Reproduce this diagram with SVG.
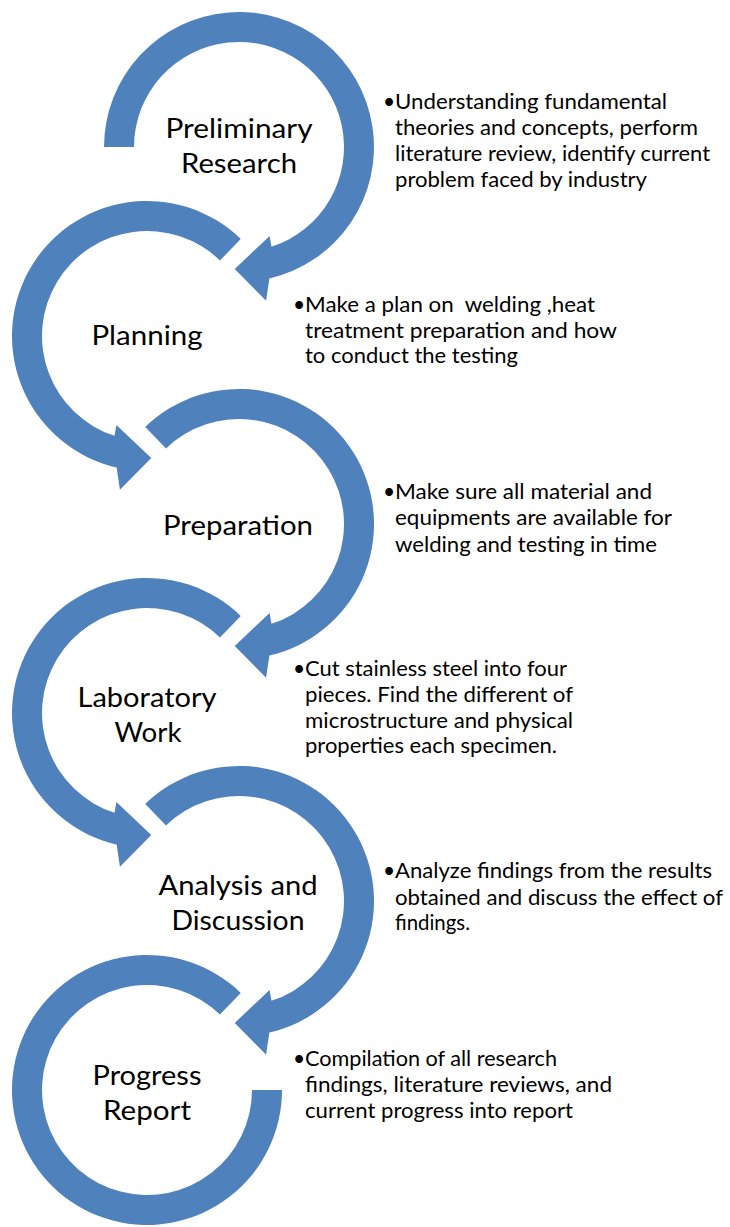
<svg xmlns="http://www.w3.org/2000/svg" xmlns:xlink="http://www.w3.org/1999/xlink" width="730" height="1227" viewBox="0 0 730 1227">
  <style>
    .arrow { fill: #4F81BD; }
    .title { font-family: Lato, "Open Sans", "Liberation Sans", sans-serif; font-size: 27px; text-anchor: middle; fill: #000000; }
    .note { font-family: Lato, "Open Sans", "Liberation Sans", sans-serif; font-size: 21px; fill: #000000; }
  </style>
  <defs>
    <!-- circular arrows centred on the origin: outer radius 135, inner radius 105 -->
    <path id="arrowFirst" d="M-135,0 A135,135 0 1 1 30.37,131.54 L27.08,153.63 L-4.26,121.93 L30.61,88.88 L32.45,99.87 A105,105 0 1 0 -105,0 Z"/>
    <path id="arrowRight" d="M-93.78,-97.11 A135,135 0 1 1 30.37,131.54 L27.08,153.63 L-4.26,121.93 L30.61,88.88 L32.45,99.87 A105,105 0 1 0 -72.94,-75.53 Z"/>
    <path id="arrowLeft" d="M93.78,-97.11 A135,135 0 1 0 -30.37,131.54 L-27.08,153.63 L4.26,121.93 L-30.61,88.88 L-32.45,99.87 A105,105 0 1 1 72.94,-75.53 Z"/>
    <path id="arrowLast" d="M93.78,-97.11 A135,135 0 1 0 135,0 L105,0 A105,105 0 1 1 72.94,-75.53 Z"/>
  </defs>

  <!-- the circular arrows carry the flow from one step to the next -->
  <g id="connectors">
    <use class="arrow" xlink:href="#arrowFirst" transform="translate(239,147)"/>
    <use class="arrow" xlink:href="#arrowLeft" transform="translate(147,336)"/>
    <use class="arrow" xlink:href="#arrowRight" transform="translate(239,524)"/>
    <use class="arrow" xlink:href="#arrowLeft" transform="translate(147,713)"/>
    <use class="arrow" xlink:href="#arrowRight" transform="translate(239,901)"/>
    <use class="arrow" xlink:href="#arrowLast" transform="translate(147,1090)"/>
  </g>

  <g id="step-preliminary-research">
    <text class="title" x="239" y="138" textLength="147" lengthAdjust="spacingAndGlyphs">Preliminary</text>
    <text class="title" x="239" y="173" textLength="116" lengthAdjust="spacingAndGlyphs">Research</text>
    <text class="note" x="383" y="109">•</text>
    <text class="note" x="395" y="109" textLength="272" lengthAdjust="spacingAndGlyphs">Understanding fundamental</text>
    <text class="note" x="395" y="135" textLength="303" lengthAdjust="spacingAndGlyphs">theories and concepts, perform</text>
    <text class="note" x="395" y="161" textLength="315" lengthAdjust="spacingAndGlyphs">literature review, identify current</text>
    <text class="note" x="395" y="187" textLength="252" lengthAdjust="spacingAndGlyphs">problem faced by industry</text>
  </g>

  <g id="step-planning">
    <text class="title" x="147" y="345" textLength="111" lengthAdjust="spacingAndGlyphs">Planning</text>
    <text class="note" x="293" y="312">•</text>
    <text class="note" x="305" y="312" textLength="290" lengthAdjust="spacingAndGlyphs" xml:space="preserve">Make a plan on  welding ,heat</text>
    <text class="note" x="305" y="338" textLength="312" lengthAdjust="spacingAndGlyphs">treatment preparation and how</text>
    <text class="note" x="305" y="363" textLength="213" lengthAdjust="spacingAndGlyphs">to conduct the testing</text>
  </g>

  <g id="step-preparation">
    <text class="title" x="238" y="535" textLength="150" lengthAdjust="spacingAndGlyphs">Preparation</text>
    <text class="note" x="383" y="499">•</text>
    <text class="note" x="395" y="499" textLength="257" lengthAdjust="spacingAndGlyphs">Make sure all material and</text>
    <text class="note" x="395" y="525" textLength="277" lengthAdjust="spacingAndGlyphs">equipments are available for</text>
    <text class="note" x="395" y="552" textLength="262" lengthAdjust="spacingAndGlyphs">welding and testing in time</text>
  </g>

  <g id="step-laboratory-work">
    <text class="title" x="147" y="707" textLength="139" lengthAdjust="spacingAndGlyphs">Laboratory</text>
    <text class="title" x="148" y="742" textLength="67" lengthAdjust="spacingAndGlyphs">Work</text>
    <text class="note" x="293" y="676">•</text>
    <text class="note" x="305" y="676" textLength="262" lengthAdjust="spacingAndGlyphs">Cut stainless steel into four</text>
    <text class="note" x="305" y="702" textLength="268" lengthAdjust="spacingAndGlyphs">pieces. Find the different of</text>
    <text class="note" x="305" y="728" textLength="268" lengthAdjust="spacingAndGlyphs">microstructure and physical</text>
    <text class="note" x="305" y="753" textLength="252" lengthAdjust="spacingAndGlyphs">properties each specimen.</text>
  </g>

  <g id="step-analysis-discussion">
    <text class="title" x="238" y="895" textLength="159" lengthAdjust="spacingAndGlyphs">Analysis and</text>
    <text class="title" x="238" y="930" textLength="133" lengthAdjust="spacingAndGlyphs">Discussion</text>
    <text class="note" x="383" y="878">•</text>
    <text class="note" x="395" y="878" textLength="317" lengthAdjust="spacingAndGlyphs">Analyze findings from the results</text>
    <text class="note" x="395" y="905" textLength="328" lengthAdjust="spacingAndGlyphs">obtained and discuss the effect of</text>
    <text class="note" x="395" y="930" textLength="75" lengthAdjust="spacingAndGlyphs">findings.</text>
  </g>

  <g id="step-progress-report">
    <text class="title" x="147" y="1085" textLength="109" lengthAdjust="spacingAndGlyphs">Progress</text>
    <text class="title" x="147" y="1120" textLength="88" lengthAdjust="spacingAndGlyphs">Report</text>
    <text class="note" x="293" y="1066">•</text>
    <text class="note" x="305" y="1066" textLength="252" lengthAdjust="spacingAndGlyphs">Compilation of all research</text>
    <text class="note" x="305" y="1092" textLength="307" lengthAdjust="spacingAndGlyphs">findings, literature reviews, and</text>
    <text class="note" x="305" y="1118" textLength="268" lengthAdjust="spacingAndGlyphs">current progress into report</text>
  </g>
</svg>
